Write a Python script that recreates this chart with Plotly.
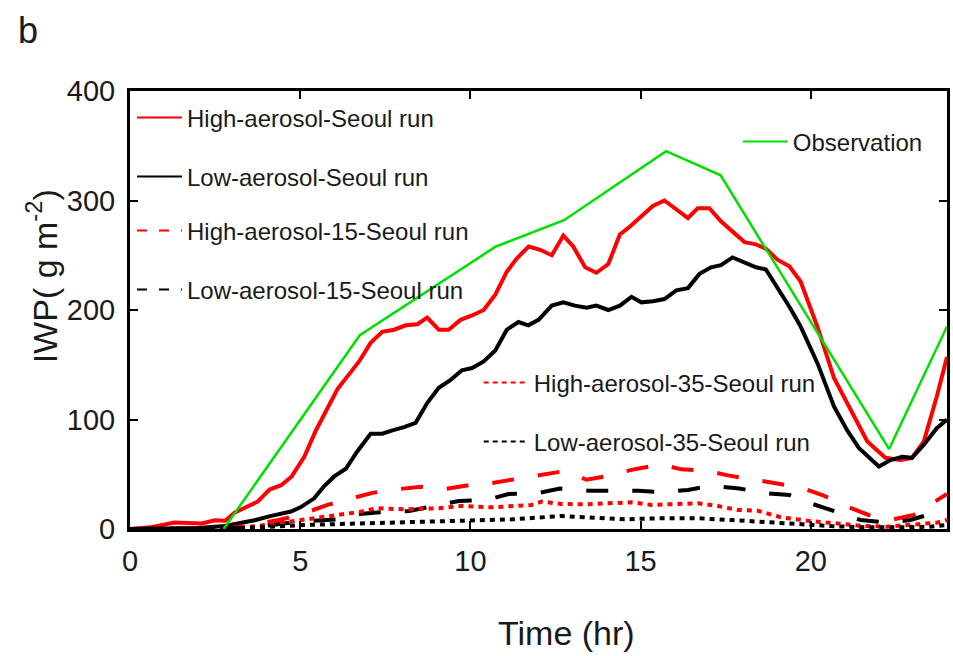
import plotly.graph_objects as go

# ---- data: ice water path (g m^-2) vs. simulation time (hr) ----
t_high = [0, 0.6, 1.3, 2.1, 2.5, 2.8, 3.07, 3.75, 4.1, 4.44, 4.75, 5.12, 5.46, 6.1, 6.73, 7.07,
          7.41, 7.76, 8.1, 8.44, 8.73, 9.07, 9.36, 9.71, 10.05, 10.39, 10.73, 11.07, 11.36, 11.71,
          12.05, 12.39, 12.73, 13.02, 13.37, 13.7, 14.05, 14.39, 14.68, 15.02, 15.36, 15.7, 16.05,
          16.39, 16.68, 17.02, 17.36, 17.7, 18.05, 18.39, 18.68, 19.02, 19.37, 19.7, 20.19, 20.68,
          21.17, 21.66, 22.19, 22.63, 22.97, 23.32, 23.7, 24]
iwp_high = [0, 1.5, 6, 5, 8, 7.6, 15, 25, 36, 40, 48, 66, 90, 128, 153, 170,
            180, 182, 186, 187, 193, 182, 182, 191, 195, 200, 214, 235, 247, 258,
            255, 250, 268, 258, 239, 234, 242, 269, 276, 285, 295, 300, 292,
            284, 293, 293, 281, 272, 262, 260, 256, 246, 240, 226, 185, 138,
            109, 80, 65, 63, 65, 80, 121, 157]

t_low = [0, 2.0, 2.78, 3.66, 4.15, 4.73, 5.02, 5.41, 5.7, 6.0, 6.34, 6.68, 7.07, 7.41, 7.71, 8.05,
         8.39, 8.73, 9.07, 9.41, 9.75, 10.05, 10.39, 10.73, 11.07, 11.41, 11.7, 12.0, 12.39, 12.73,
         13.07, 13.41, 13.7, 14.05, 14.39, 14.73, 15.02, 15.36, 15.7, 16.05, 16.39, 16.73, 17.07,
         17.36, 17.7, 18.05, 18.39, 18.68, 19.02, 19.37, 19.7, 20.2, 20.68, 21.07, 21.41, 22.0,
         22.34, 22.68, 22.97, 23.32, 23.7, 24]
iwp_low = [0, 1, 2.7, 8, 12, 16, 20, 28, 39, 48, 55, 71, 87, 87, 90, 93,
           97, 115, 129, 136, 145, 147, 153, 163, 182, 189, 186, 191, 204, 207,
           204, 202, 204, 200, 204, 212, 207, 208, 210, 218, 220, 233, 239,
           241, 248, 243, 239, 237, 221, 203, 185, 151, 112, 90, 74, 57,
           63, 66, 65, 77, 92, 100]

t_high15 = [0, 3.0, 3.76, 4.33, 4.98, 5.8, 6.39, 7.12, 7.66, 8.54, 9.17, 9.95, 10.63, 11.37, 12.0,
            12.78, 13.41, 14.14, 14.73, 15.6, 16.2, 16.97, 17.56, 18.34, 18.97, 19.7, 20.34, 21.07,
            21.7, 22.44, 23.02, 23.75, 24]
iwp_high15 = [0, 1, 5, 8, 12.8, 22, 27, 33, 35.6, 38.6, 36, 40, 42, 46, 49,
              53, 45, 49, 54, 59, 54.5, 53, 49, 45, 42, 38, 31, 20.4,
              12.8, 8.8, 12.8, 26.5, 32]

t_low15 = [0, 3.5, 4.93, 6.1, 6.68, 7.56, 8.2, 9.02, 9.66, 10.49, 11.12, 11.95, 12.63, 13.46, 14.14,
           14.93, 15.6, 16.39, 17.07, 17.9, 18.58, 19.37, 20.0, 20.78, 21.46, 22.24, 22.92, 23.75, 24]
iwp_low15 = [0, 1, 6.7, 8.8, 13.7, 15.8, 16.4, 22, 25.6, 26.5, 32, 32.6, 37, 35, 35,
             35, 33.5, 35.6, 39.5, 37, 33, 31, 23.4, 15, 8.2, 5.8, 8.2, 15.8, 16.7]

t_high35 = [0, 3.0, 3.76, 4.73, 5.32, 6.1, 6.78, 7.27, 8.05, 8.58, 9.07, 9.75, 10.58, 11.32, 11.8,
            12.1, 12.68, 13.36, 14.05, 14.73, 15.32, 16.1, 16.68, 17.27, 17.85, 18.44, 19.12, 19.9,
            20.78, 21.56, 22.24, 23.02, 23.7, 24]
iwp_high35 = [0, 1, 2.7, 6.7, 8.8, 12.8, 15.8, 18.9, 18, 18.9, 18.9, 21, 19.8, 21, 22,
              25, 22.8, 22.5, 23.5, 24.4, 22, 22.5, 23.5, 21, 17.4, 16.7, 10.7, 7.6,
              4.6, 2.7, 2.1, 3.7, 5.8, 8.2]

t_low35 = [0, 3.5, 5.12, 6.68, 8.15, 9.95, 11.22, 12.68, 13.56, 14.53, 15.51, 16.68, 17.66, 18.63,
           19.61, 20.58, 21.56, 22.53, 23.51, 24]
iwp_low35 = [0, 1, 3.7, 5, 5.8, 7.3, 8.8, 11.9, 10.7, 8.8, 9.8, 9.8, 8.2, 6.7,
             4.6, 2.7, 1.5, 1.5, 2.1, 3.7]

t_obs = [2.75, 6.75, 10.75, 12.75, 15.75, 17.35, 22.3, 24]
iwp_obs = [0, 177, 258, 282, 345, 323, 73, 185]

x_ticks = [0, 5, 10, 15, 20]
y_ticks = [0, 100, 200, 300, 400]

FONT = "'Liberation Sans', Arial, sans-serif"
TEXT = "#1a1a1a"
RED = "#ff0000"
BLACK = "#000000"
GREEN = "#00e000"

# name, time, values, colour, dash (curve), dash (key), width, legend id
series = [
    ("High-aerosol-Seoul run", t_high, iwp_high, RED, "solid", "solid", 4, "legend"),
    ("Low-aerosol-Seoul run", t_low, iwp_low, BLACK, "solid", "solid", 4, "legend2"),
    ("High-aerosol-15-Seoul run", t_high15, iwp_high15, RED, "22px,24px", "10px,12px", 4, "legend3"),
    ("Low-aerosol-15-Seoul run", t_low15, iwp_low15, BLACK, "22px,24px", "10px,12px", 4, "legend4"),
    ("High-aerosol-35-Seoul run", t_high35, iwp_high35, RED, "5px,5px", "5px,4px", 4, "legend5"),
    ("Low-aerosol-35-Seoul run", t_low35, iwp_low35, BLACK, "5px,5px", "5px,4px", 4, "legend6"),
    ("Observation", t_obs, iwp_obs, GREEN, "solid", "solid", 2.5, "legend7"),
]

fig = go.Figure()
for name, tx, vy, color, dash, kdash, width, leg in series:
    fig.add_trace(go.Scatter(
        x=tx, y=vy, mode="lines", name=name, showlegend=False,
        line=dict(color=color, dash=dash, width=width),
    ))
    # thin key line shown in the legend only
    fig.add_trace(go.Scatter(
        x=[None], y=[None], mode="lines", name=name, legend=leg,
        line=dict(color=color, dash=kdash, width=2),
    ))

# plot-area geometry (pixels) used to place each legend entry
L, R, T, B = 130, 950, 91, 529
def px_x(p):
    return (p - L) / (R - L)
def px_y(p):
    return (B - p) / (B - T)

leg_font = dict(family=FONT, size=24, color=TEXT)
def legend_at(xp, yp):
    return dict(x=px_x(xp), y=px_y(yp), xanchor="left", yanchor="middle",
                bgcolor="rgba(0,0,0,0)", borderwidth=0, font=leg_font,
                itemwidth=45, tracegroupgap=0)

fig.update_layout(
    width=953, height=656,
    margin=dict(l=L, r=953 - R, t=T, b=656 - B, pad=0),
    paper_bgcolor="white", plot_bgcolor="white",
    font=dict(family=FONT, color=TEXT),
    showlegend=True,
    legend=legend_at(132, 118),
    legend2=legend_at(132, 177),
    legend3=legend_at(132, 231),
    legend4=legend_at(132, 290),
    legend5=legend_at(480, 383),
    legend6=legend_at(480, 442),
    legend7=legend_at(740, 142),
    xaxis=dict(
        range=[0, 24], tickvals=x_ticks, ticktext=[str(v) for v in x_ticks],
        ticks="inside", ticklen=8, tickwidth=2, tickcolor="black",
        showline=True, linecolor="black", linewidth=3, mirror="ticks",
        showgrid=False, zeroline=False,
        tickfont=dict(family=FONT, size=29, color=TEXT),
        ticklabelstandoff=4,
    ),
    yaxis=dict(
        range=[0, 400], tickvals=y_ticks, ticktext=[str(v) for v in y_ticks],
        ticks="inside", ticklen=8, tickwidth=2, tickcolor="black",
        showline=True, linecolor="black", linewidth=3, mirror="ticks",
        showgrid=False, zeroline=False,
        tickfont=dict(family=FONT, size=29, color=TEXT),
        ticklabelstandoff=6,
    ),
    annotations=[
        dict(text="b", xref="paper", yref="paper", x=px_x(16), y=px_y(30),
             xanchor="left", yanchor="middle", showarrow=False,
             font=dict(family=FONT, size=36, color=TEXT)),
        dict(text="Time (hr)", xref="paper", yref="paper", x=px_x(568), y=px_y(633),
             xanchor="center", yanchor="middle", showarrow=False,
             font=dict(family=FONT, size=34, color=TEXT)),
        dict(text="IWP( g m<sup>-2</sup>)", xref="paper", yref="paper", x=px_x(41), y=px_y(276),
             xanchor="center", yanchor="middle", showarrow=False, textangle=-90,
             font=dict(family=FONT, size=34, color=TEXT)),
    ],
)

fig.write_html("out.html")
